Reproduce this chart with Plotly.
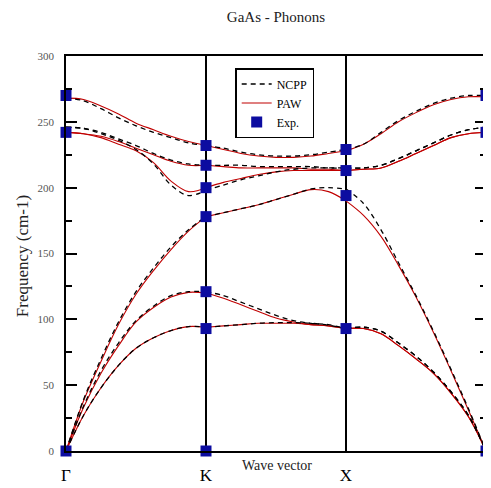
import plotly.graph_objects as go

# ---- data ----
tick_pos = [0, 1, 2, 3]
tick_labels = ["Γ", "K", "X", "Γ"]
q_grid = [0, 0.125, 0.25, 0.375, 0.5, 0.625, 0.75, 0.875, 1.0,
          1.125, 1.25, 1.375, 1.5, 1.625, 1.75, 1.875, 2.0,
          2.125, 2.25, 2.375, 2.5, 2.625, 2.75, 2.875, 3.0]

paw_b1 = [0, 27, 48, 65, 78, 86, 91.5, 94.5, 94, 95, 96, 97, 97, 97, 96, 95, 93, 93, 89, 80, 70, 59, 44, 26, 0]
paw_b2 = [0, 33, 59, 80, 98, 109, 117, 120.5, 120, 116, 111, 106, 101, 98, 96, 95, 93, 93, 89, 80, 70, 59, 44, 26, 0]
paw_b3 = [0, 38, 68, 96, 119, 137, 153, 167, 178, 181, 184, 187, 191, 195, 198.5, 197, 190, 179, 163, 141, 117, 90, 61, 31, 0]
paw_b4 = [242, 241, 238, 233, 228, 219, 205, 197, 200, 204, 207, 210, 212, 213, 213, 213, 213, 214, 215, 220, 226, 232, 238, 241, 242]
paw_b5 = [242, 241, 239, 235, 230, 225, 220, 217, 217, 216, 215, 215, 215, 215, 214, 214, 213, 214, 215, 220, 226, 232, 238, 241, 242]
paw_b6 = [268, 267, 262, 256, 249, 244, 239, 235, 232, 229, 226, 224, 223, 223, 224, 226, 228, 233, 241, 250, 257, 263, 267, 269, 269]

ncpp_b1 = [0, 27, 48, 65, 78, 86, 91.5, 94.5, 94, 95, 96, 97, 97.5, 97.5, 97, 95.5, 93, 94, 91, 82, 72, 60, 45, 27, 0]
ncpp_b2 = [0, 34, 61, 82, 99, 110, 118, 121, 121, 118, 113, 108, 103, 99, 97, 96, 93, 94, 91, 82, 72, 60, 45, 27, 0]
ncpp_b3 = [0, 39, 70, 98, 121, 139, 155, 168, 178, 181, 184, 187, 191, 195, 199, 200, 199, 188, 168, 143, 118, 91, 62, 32, 0]
ncpp_b4 = [246, 245, 241, 236, 229, 218, 202, 194, 198, 202, 206, 209, 212, 214, 215, 215, 215, 215, 217, 222, 228, 234, 240, 244, 246]
ncpp_b5 = [246, 245, 242, 237, 232, 226, 221, 218, 217, 217, 217, 216, 216, 216, 216, 215, 215, 215, 217, 222, 228, 234, 240, 244, 246]
ncpp_b6 = [268, 266, 260, 253, 247, 242, 238, 234, 232, 230, 227, 225, 224, 224, 225, 227, 229, 233, 242, 251, 258, 264, 268, 270, 270]

exp_q = [0, 0, 0, 1, 1, 1, 1, 1, 1, 1, 2, 2, 2, 2, 3, 3, 3]
exp_f = [0, 242, 270, 0, 93, 121, 178, 200, 217, 232, 93, 194, 213, 229, 0, 242, 270]

SERIF = "Liberation Serif, Times New Roman, serif"
OFF = 8  # page body margin offset


def segments(bands):
    xs, ys = [], []
    for b in bands:
        for s in range(3):
            i0, i1 = s * 8, s * 8 + 9
            xs += q_grid[i0:i1] + [None]
            ys += b[i0:i1] + [None]
    return xs, ys


fig = go.Figure()

px_, py_ = segments([paw_b1, paw_b2, paw_b3, paw_b4, paw_b5, paw_b6])
nx_, ny_ = segments([ncpp_b1, ncpp_b2, ncpp_b3, ncpp_b4, ncpp_b5, ncpp_b6])

fig.add_trace(go.Scatter(x=px_, y=py_, mode="lines", name="PAW",
                         line=dict(color="#c00000", width=1.1, shape="spline", smoothing=1.0),
                         legendrank=2))
fig.add_trace(go.Scatter(x=nx_, y=ny_, mode="lines", name="NCPP",
                         line=dict(color="black", width=1.3, dash="5px,4px", shape="spline", smoothing=1.0),
                         legendrank=1))
fig.add_trace(go.Scatter(x=exp_q, y=exp_f, mode="markers", name="Exp.",
                         marker=dict(symbol="square", size=11, color="#0c0ca0"),
                         cliponaxis=False, legendrank=3))

W, H = 491 - OFF, 488 - OFF
fig.update_layout(
    width=W, height=H,
    margin=dict(l=66 - OFF, r=3, t=56 - OFF, b=37),
    paper_bgcolor="white", plot_bgcolor="white",
    font=dict(family=SERIF, color="black"),
    title=dict(text="GaAs - Phonons", x=0.5, xref="paper", xanchor="center",
               y=1 - (17 - OFF) / H, yref="container", yanchor="middle",
               font=dict(family=SERIF, size=15, color="#222")),
    showlegend=True,
    legend=dict(x=(236 - 66) / 422, y=(451 - 68) / 395, xanchor="left", yanchor="top",
                bgcolor="white", bordercolor="black", borderwidth=1.5,
                font=dict(family=SERIF, size=12, color="black"),
                tracegroupgap=0, itemwidth=30),
)

fig.update_xaxes(range=[0, 3], tickmode="array", tickvals=tick_pos, ticktext=tick_labels,
                 showgrid=True, gridcolor="black", gridwidth=1.5,
                 showline=True, linecolor="black", linewidth=1.5, mirror=True,
                 ticks="outside", ticklen=8, tickcolor="rgba(0,0,0,0)",
                 tickfont=dict(family=SERIF, size=17, color="black"), zeroline=False)
fig.update_yaxes(range=[0, 300], tickmode="linear", tick0=0, dtick=50,
                 showgrid=False, zeroline=False,
                 showline=True, linecolor="black", linewidth=1.5, mirror="ticks",
                 ticks="inside", ticklen=11, tickwidth=1.5, tickcolor="black",
                 minor=dict(ticks="inside", ticklen=6, dtick=25, tickwidth=1.5, tickcolor="black"),
                 ticklabelstandoff=8,
                 tickfont=dict(family=SERIF, size=11, color="#555"))

fig.add_annotation(text="Frequency (cm-1)", textangle=-90, xref="paper", yref="paper",
                   x=(22 - 66) / 422, y=(451 - 256) / 395, showarrow=False,
                   xanchor="center", yanchor="middle",
                   font=dict(family=SERIF, size=17, color="#222"))
fig.add_annotation(text="Wave vector", xref="paper", yref="paper",
                   x=(278 - 66) / 422, y=(451 - 465) / 395, showarrow=False,
                   xanchor="center", yanchor="middle",
                   font=dict(family=SERIF, size=14, color="#222"))

fig.write_html("out.html")
